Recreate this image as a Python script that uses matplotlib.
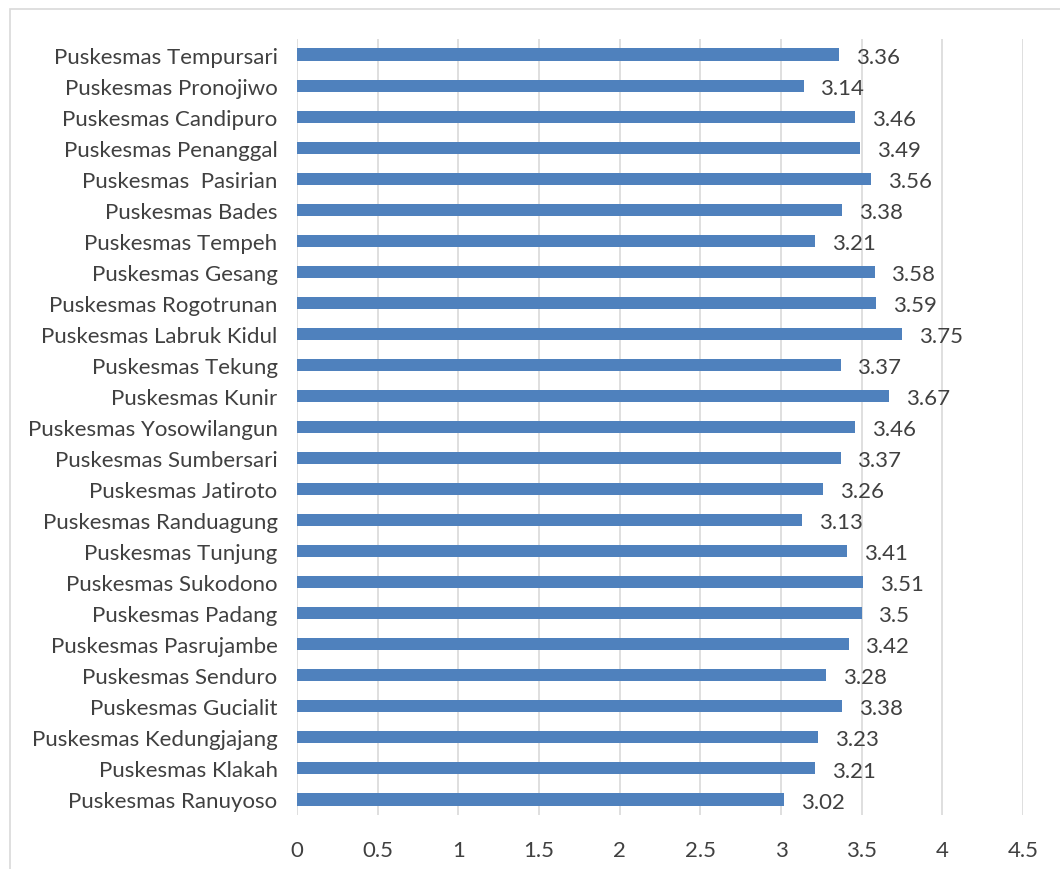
import matplotlib.pyplot as plt
from matplotlib.patches import Rectangle

plt.rcParams['font.family'] = ['Lato', 'DejaVu Sans']

# Data (top to bottom as in chart)
names = [
    "Puskesmas Tempursari", "Puskesmas Pronojiwo", "Puskesmas Candipuro",
    "Puskesmas Penanggal", "Puskesmas  Pasirian", "Puskesmas Bades",
    "Puskesmas Tempeh", "Puskesmas Gesang", "Puskesmas Rogotrunan",
    "Puskesmas Labruk Kidul", "Puskesmas Tekung", "Puskesmas Kunir",
    "Puskesmas Yosowilangun", "Puskesmas Sumbersari", "Puskesmas Jatiroto",
    "Puskesmas Randuagung", "Puskesmas Tunjung", "Puskesmas Sukodono",
    "Puskesmas Padang", "Puskesmas Pasrujambe", "Puskesmas Senduro",
    "Puskesmas Gucialit", "Puskesmas Kedungjajang", "Puskesmas Klakah",
    "Puskesmas Ranuyoso",
]
scores = [3.36, 3.14, 3.46, 3.49, 3.56, 3.38, 3.21, 3.58, 3.59, 3.75,
          3.37, 3.67, 3.46, 3.37, 3.26, 3.13, 3.41, 3.51, 3.5, 3.42,
          3.28, 3.38, 3.23, 3.21, 3.02]
xticks = [0, 0.5, 1, 1.5, 2, 2.5, 3, 3.5, 4, 4.5]

text_col = '#404040'
fig = plt.figure(figsize=(10.6, 8.7), dpi=100)
ax = fig.add_axes([297 / 1060, 1 - 816 / 870, 726 / 1060, 776 / 870])

ypos = list(range(len(names)))[::-1]
ax.barh(ypos, scores, height=0.39, color='#4F81BD', zorder=3)
for y, v in zip(ypos, scores):
    ax.annotate(f"{v:g}", (v, y), xytext=(12, -1.5), textcoords='offset points',
                va='center', ha='left', fontsize=16, color=text_col)

ax.set_xlim(0, 4.5)
ax.set_ylim(-0.5, len(names) - 0.5)
ax.set_xticks(xticks)
ax.set_xticklabels([f"{t:g}" for t in xticks])
ax.set_yticks(ypos)
ax.set_yticklabels(names)
ax.tick_params(axis='both', length=0, labelsize=16, labelcolor=text_col)
ax.tick_params(axis='x', pad=18)
ax.tick_params(axis='y', pad=14)
ax.grid(axis='x', color='#D9D9D9', linewidth=1.2, zorder=0)
for s in ax.spines.values():
    s.set_visible(False)

# chart border
fig.patches.append(Rectangle((10 / 1060, -0.1), 1.2, 1 - 10 / 870 + 0.1,
                             transform=fig.transFigure, fill=False,
                             edgecolor='#D9D9D9', linewidth=1.2))

fig.savefig('out.png', dpi=100)
